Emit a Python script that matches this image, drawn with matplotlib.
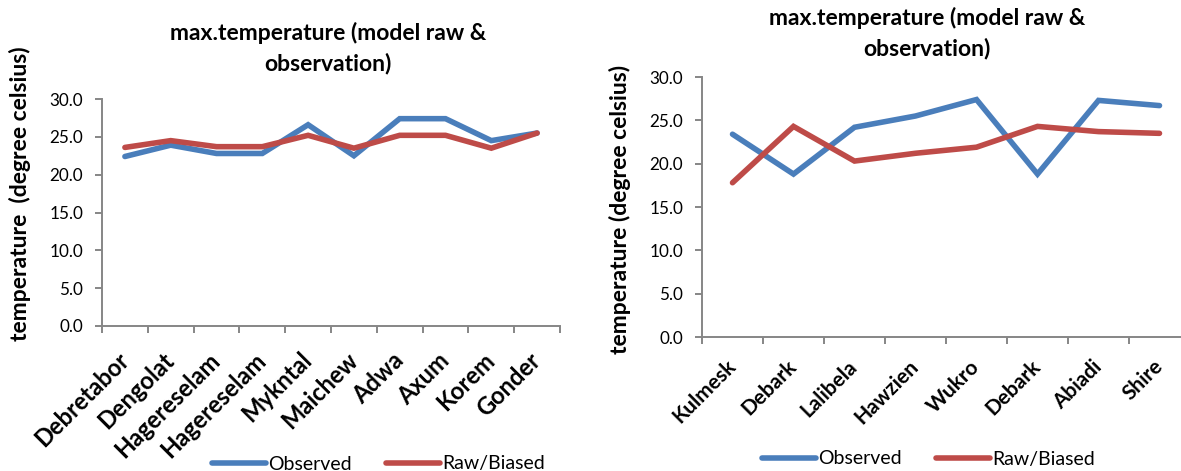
import matplotlib
matplotlib.use("Agg")
import matplotlib.pyplot as plt

# Station names and max temperature (°C): observed vs. raw model output
stations_a = ["Debretabor", "Dengolat", "Hagereselam", "Hagereselam", "Mykntal",
              "Maichew", "Adwa", "Axum", "Korem", "Gonder"]
observed_a = [22.4, 23.9, 22.8, 22.8, 26.6, 22.5, 27.4, 27.4, 24.5, 25.5]
raw_a = [23.6, 24.5, 23.7, 23.7, 25.2, 23.5, 25.2, 25.2, 23.5, 25.5]

stations_b = ["Kulmesk", "Debark", "Lalibela", "Hawzien", "Wukro", "Debark", "Abiadi", "Shire"]
observed_b = [23.4, 18.8, 24.2, 25.5, 27.4, 18.8, 27.3, 26.7]
raw_b = [17.8, 24.3, 20.3, 21.2, 21.9, 24.3, 23.7, 23.5]

yticks = [0, 5, 10, 15, 20, 25, 30]
title_lines = ["max.temperature (model raw &", "observation)"]

BLUE = "#4A7EBB"
RED = "#BE4B48"
GRAY = "#868686"
FONT = "Lato"
W, H = 1181, 471

fig = plt.figure(figsize=(W / 100, H / 100), dpi=100)


def px(x, y):
    """Pixel position (from top-left) to figure fraction."""
    return x / W, 1 - y / H


def draw(ax, stations, obs, raw, ylabel, xlab_size, xlab_pad,
         title_xy, ylabel_xy, legend_xy):
    n = len(stations)
    x = [i + 0.5 for i in range(n)]
    l1, = ax.plot(x, obs, color=BLUE, lw=4, solid_joinstyle="miter",
                  solid_capstyle="round", label="Observed")
    l2, = ax.plot(x, raw, color=RED, lw=4, solid_joinstyle="miter",
                  solid_capstyle="round", label="Raw/Biased")
    ax.set_xlim(0, n)
    ax.set_ylim(0, 30)
    ax.set_yticks(yticks)
    ax.set_yticklabels([f"{v:.1f}" for v in yticks], fontsize=12.3, family=FONT)
    ax.set_xticks(range(n + 1))
    ax.set_xticklabels([])
    ax.set_xticks(x, minor=True)
    ax.set_xticklabels(stations, minor=True, rotation=45, ha="right", va="center",
                       rotation_mode="anchor", fontsize=xlab_size, fontweight="bold",
                       family=FONT)
    ax.tick_params(axis="x", which="minor", length=0, pad=xlab_pad)
    ax.tick_params(axis="x", which="major", length=5, color=GRAY, width=1.4)
    ax.tick_params(axis="y", length=5, color=GRAY, width=1.4, pad=8.5)
    for side in ("top", "right"):
        ax.spines[side].set_visible(False)
    for side in ("left", "bottom"):
        ax.spines[side].set_color(GRAY)
        ax.spines[side].set_linewidth(1.4)

    tx, ty1, ty2 = title_xy
    fig.text(*px(tx, ty1), title_lines[0], ha="center", va="baseline",
             fontsize=16.5, fontweight="bold", family=FONT)
    fig.text(*px(tx, ty2), title_lines[1], ha="center", va="baseline",
             fontsize=16.5, fontweight="bold", family=FONT)
    fig.text(*px(*ylabel_xy), ylabel, rotation=90, ha="center", va="center",
             fontsize=16.5, fontweight="bold", family=FONT)
    fig.legend(handles=[l1, l2], loc="center left", bbox_to_anchor=px(*legend_xy),
               ncol=2, frameon=False, borderpad=0, handlelength=2.8,
               columnspacing=1.75, handletextpad=0.1,
               prop={"family": FONT, "size": 14})


ax1 = fig.add_axes([102 / W, 1 - 326 / H, 458 / W, 227 / H])
draw(ax1, stations_a, observed_a, raw_a, "temperature  (degree celsius)",
     xlab_size=17, xlab_pad=22,
     title_xy=(328, 40, 70), ylabel_xy=(20, 194), legend_xy=(202, 464))

ax2 = fig.add_axes([702 / W, 1 - 337 / H, 488 / W, 260 / H])
draw(ax2, stations_b, observed_b, raw_b, "temperature (degree celsius)",
     xlab_size=15, xlab_pad=19,
     title_xy=(927, 25, 55), ylabel_xy=(620, 209), legend_xy=(752, 459))

fig.savefig("out.png", dpi=100)
